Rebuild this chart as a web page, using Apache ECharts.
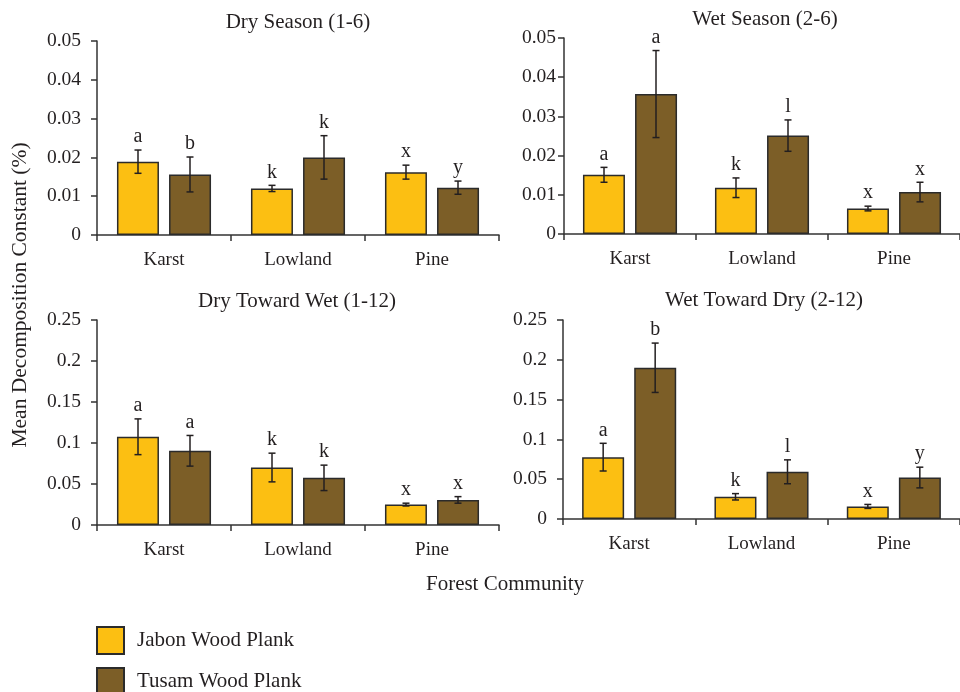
<!DOCTYPE html>
<html>
<head>
<meta charset="utf-8">
<title>Mean Decomposition Constant by Forest Community</title>
<script src="https://cdn.jsdelivr.net/npm/echarts@6/dist/echarts.min.js"></script>
<style>
  html, body { margin: 0; padding: 0; background: #fff; }
  #chart { width: 960px; height: 692px; }
</style>
</head>
<body>
<div id="chart"></div>
<script>
// Forest communities on every x axis
const categories = ['Karst', 'Lowland', 'Pine'];

// Dry Season (1-6)
const dryJabon = [0.0189, 0.0120, 0.0162];
const dryJabonErr = [0.0030, 0.0008, 0.0018];
const dryJabonLetters = ['a', 'k', 'x'];
const dryTusam = [0.0156, 0.0200, 0.0122];
const dryTusamErr = [0.0045, 0.0056, 0.0017];
const dryTusamLetters = ['b', 'k', 'y'];

// Wet Season (2-6)
const wetJabon = [0.0151, 0.0118, 0.0065];
const wetJabonErr = [0.0019, 0.0025, 0.0006];
const wetJabonLetters = ['a', 'k', 'x'];
const wetTusam = [0.0357, 0.0251, 0.0107];
const wetTusamErr = [0.0111, 0.0040, 0.0025];
const wetTusamLetters = ['a', 'l', 'x'];

// Dry Toward Wet (1-12)
const dtwJabon = [0.1076, 0.0701, 0.0249];
const dtwJabonErr = [0.0218, 0.0175, 0.0017];
const dtwJabonLetters = ['a', 'k', 'x'];
const dtwTusam = [0.0905, 0.0575, 0.0306];
const dtwTusamErr = [0.0187, 0.0155, 0.0040];
const dtwTusamLetters = ['a', 'k', 'x'];

// Wet Toward Dry (2-12)
const wtdJabon = [0.0777, 0.0279, 0.0158];
const wtdJabonErr = [0.0174, 0.0040, 0.0025];
const wtdJabonLetters = ['a', 'k', 'x'];
const wtdTusam = [0.1900, 0.0593, 0.0521];
const wtdTusamErr = [0.0310, 0.0150, 0.0130];
const wtdTusamLetters = ['b', 'l', 'y'];

const panelTitles = ['Dry Season (1-6)', 'Wet Season (2-6)', 'Dry Toward Wet (1-12)', 'Wet Toward Dry (2-12)'];
const yMax = [0.05, 0.05, 0.25, 0.25];
const yStep = [0.01, 0.01, 0.05, 0.05];
const seriesNames = ['Jabon Wood Plank', 'Tusam Wood Plank'];
const yAxisTitle = 'Mean Decomposition Constant (%)';
const xAxisTitle = 'Forest Community';

const FONT = '"Liberation Serif", "Times New Roman", serif';
const INK = '#231f20';
const COLORS = ['#fcbf12', '#7c5e27'];
const BAR_W = 42;
const BAR_OFFSET = 26; // half of (bar width + gap) between the paired bars

const panels = [
  { j: dryJabon, je: dryJabonErr, jl: dryJabonLetters, t: dryTusam, te: dryTusamErr, tl: dryTusamLetters },
  { j: wetJabon, je: wetJabonErr, jl: wetJabonLetters, t: wetTusam, te: wetTusamErr, tl: wetTusamLetters },
  { j: dtwJabon, je: dtwJabonErr, jl: dtwJabonLetters, t: dtwTusam, te: dtwTusamErr, tl: dtwTusamLetters },
  { j: wtdJabon, je: wtdJabonErr, jl: wtdJabonLetters, t: wtdTusam, te: wtdTusamErr, tl: wtdTusamLetters }
];

const grids = [
  { left: 97, top: 41, width: 402, height: 194 },
  { left: 564, top: 38, width: 402, height: 196 },
  { left: 97, top: 320, width: 402, height: 205 },
  { left: 563, top: 320, width: 402, height: 199 }
];
const yLabelMargin = [16, 8, 16, 16];
const titlePos = [[298, 22], [765, 19], [297, 301], [764, 300]];

const xAxes = grids.map((g, i) => ({
  type: 'category', gridIndex: i, data: categories,
  axisLine: { lineStyle: { color: '#333', width: 1.5 } },
  axisTick: { show: true, length: 6, lineStyle: { color: '#333', width: 1.5 } },
  axisLabel: { color: INK, fontFamily: FONT, fontSize: 19, margin: 16 }
}));

const yAxes = grids.map((g, i) => ({
  type: 'value', gridIndex: i, min: 0, max: yMax[i], interval: yStep[i],
  splitLine: { show: false },
  axisLine: { show: true, lineStyle: { color: '#333', width: 1.5 } },
  axisTick: { show: true, length: 6, lineStyle: { color: '#333', width: 1.5 } },
  axisLabel: {
    color: INK, fontFamily: FONT, fontSize: 19.5, margin: yLabelMargin[i],
    formatter: v => (v === 0 ? '0' : String(+v.toFixed(3)))
  }
}));

function barSeries(idx, name, values, color) {
  return {
    type: 'bar', name: name, xAxisIndex: idx, yAxisIndex: idx,
    data: values, barWidth: BAR_W, barGap: '24%',
    itemStyle: { color: color, borderColor: '#2b2b2b', borderWidth: 1.5 }
  };
}

function errorSeries(idx, values, errs, letters, side) {
  return {
    type: 'custom', xAxisIndex: idx, yAxisIndex: idx, z: 10, silent: true,
    data: values.map((v, k) => [k, v, errs[k]]),
    renderItem: function (params, api) {
      const k = api.value(0), v = api.value(1), e = api.value(2);
      const hi = api.coord([k, v + e]);
      const lo = api.coord([k, v - e]);
      const x = hi[0] + side * BAR_OFFSET;
      const stroke = { stroke: INK, lineWidth: 1.5 };
      return {
        type: 'group',
        children: [
          { type: 'line', shape: { x1: x, y1: hi[1], x2: x, y2: lo[1] }, style: stroke },
          { type: 'line', shape: { x1: x - 3.5, y1: hi[1], x2: x + 3.5, y2: hi[1] }, style: stroke },
          { type: 'line', shape: { x1: x - 3.5, y1: lo[1], x2: x + 3.5, y2: lo[1] }, style: stroke },
          {
            type: 'text', x: x, y: hi[1] - 3,
            style: {
              text: letters[params.dataIndex], fill: INK, font: '20px ' + FONT,
              textAlign: 'center', textVerticalAlign: 'bottom'
            }
          }
        ]
      };
    }
  };
}

const series = [];
panels.forEach((p, i) => {
  series.push(barSeries(i, seriesNames[0], p.j, COLORS[0]));
  series.push(barSeries(i, seriesNames[1], p.t, COLORS[1]));
  series.push(errorSeries(i, p.j, p.je, p.jl, -1));
  series.push(errorSeries(i, p.t, p.te, p.tl, 1));
});

const graphics = panelTitles.map((t, i) => ({
  type: 'text', x: titlePos[i][0], y: titlePos[i][1],
  style: { text: t, fill: INK, font: '21px ' + FONT, textAlign: 'center', textVerticalAlign: 'middle' }
}));
graphics.push({
  type: 'text', x: 20, y: 295, rotation: Math.PI / 2,
  style: { text: yAxisTitle, fill: INK, font: '21.5px ' + FONT, textAlign: 'center', textVerticalAlign: 'middle' }
});
graphics.push({
  type: 'text', x: 505, y: 584,
  style: { text: xAxisTitle, fill: INK, font: '21px ' + FONT, textAlign: 'center', textVerticalAlign: 'middle' }
});

// one legend block per wood type, stacked vertically
const legendBase = {
  orient: 'vertical', left: 96, padding: 0, itemWidth: 27, itemHeight: 27, icon: 'rect',
  textStyle: { color: INK, fontFamily: FONT, fontSize: 21, padding: [0, 0, 0, 8] }
};
const legends = [
  Object.assign({}, legendBase, { data: [seriesNames[0]], top: 626 }),
  Object.assign({}, legendBase, { data: [seriesNames[1]], top: 667 })
];

const chart = echarts.init(document.getElementById('chart'), null, { renderer: 'canvas' });
chart.setOption({
  animation: false,
  backgroundColor: '#fff',
  grid: grids,
  xAxis: xAxes,
  yAxis: yAxes,
  legend: legends,
  series: series,
  graphic: graphics
});
</script>
</body>
</html>
